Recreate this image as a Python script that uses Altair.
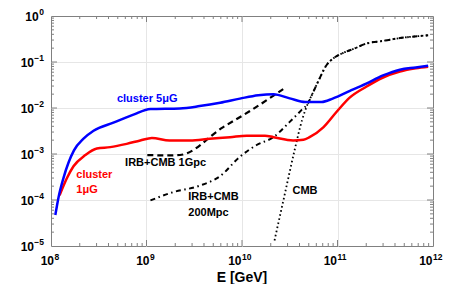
import altair as alt
import pandas as pd

# ---------------- data (E in GeV, attenuation factor) ----------------
blue_E = [1.11e8, 1.20e8, 1.35e8, 1.74e8, 2.19e8, 2.79e8, 4.5e8, 7.3e8, 1.10e9, 2.24e9,
          3.6e9, 5.9e9, 9.5e9, 1.48e10, 2.14e10, 3.16e10, 4.6e10, 6.8e10, 8.9e10,
          1.35e11, 2.0e11, 3.0e11, 4.5e11, 6.6e11, 8.9e11]
blue_v = [4.7e-5, 1.15e-4, 3.0e-4, 1.2e-3, 2.15e-3, 3.2e-3, 4.8e-3, 7.2e-3, 9.5e-3, 9.8e-3,
          1.1e-2, 1.3e-2, 1.6e-2, 1.9e-2, 2.0e-2, 1.62e-2, 1.35e-2, 1.35e-2, 1.6e-2,
          2.35e-2, 3.4e-2, 5.1e-2, 6.8e-2, 7.6e-2, 8.3e-2]

red_E = [1.23e8, 1.47e8, 1.72e8, 2.29e8, 3.02e8, 4.17e8, 6.2e8, 8.6e8, 1.14e9, 1.74e9,
         2.85e9, 4.6e9, 7.5e9, 1.12e10, 1.74e10, 2.14e10, 3.43e10, 4.4e10, 5.1e10,
         7.1e10, 9.8e10, 1.35e11, 2.0e11, 3.0e11, 4.5e11, 6.6e11, 8.9e11]
red_v = [1.26e-4, 3.0e-4, 5.4e-4, 9.5e-4, 1.32e-3, 1.41e-3, 1.66e-3, 1.97e-3, 2.24e-3, 1.97e-3,
         1.97e-3, 2.14e-3, 2.32e-3, 2.5e-3, 2.5e-3, 2.32e-3, 1.97e-3, 2.04e-3, 2.32e-3,
         3.8e-3, 8.3e-3, 1.7e-2, 2.9e-2, 4.6e-2, 6.2e-2, 7.3e-2, 7.9e-2]

gpc_E = [1.02e9, 1.6e9, 2.24e9, 6.3e9, 1.2e10, 2.7e10]
gpc_v = [9.5e-4, 9.3e-4, 9.5e-4, 3.8e-3, 8.5e-3, 2.57e-2]

mpc_E = [1.10e9, 1.9e9, 3.6e9, 5.9e9, 9.5e9, 1.41e10, 2.14e10, 3.16e10, 4.17e10, 4.9e10,
         5.5e10, 6.5e10, 7.6e10, 8.9e10, 1.15e11, 1.45e11, 2.0e11, 3.0e11, 4.5e11, 8.9e11]
mpc_v = [9.8e-5, 1.48e-4, 2.04e-4, 3.3e-4, 8.7e-4, 1.55e-3, 2.34e-3, 5.0e-3, 8.9e-3, 1.26e-2,
         2.1e-2, 4.4e-2, 8.3e-2, 0.117, 0.158, 0.19, 0.251, 0.288, 0.331, 0.38]

cmb_E = [2.19e10, 2.82e10, 3.55e10, 4.27e10, 4.9e10, 5.5e10, 6.5e10, 7.6e10, 8.9e10,
         1.15e11, 1.45e11, 2.0e11, 3.0e11, 4.5e11, 8.9e11]
cmb_v = [1.32e-5, 1.41e-4, 1.2e-3, 5.6e-3, 1.26e-2, 2.1e-2, 4.4e-2, 8.3e-2, 0.117,
         0.158, 0.19, 0.251, 0.288, 0.331, 0.38]

# annotations (data coordinates)
ann_E = [4.9e8, 1.84e8, 1.84e8, 5.97e8, 2.74e9, 2.74e9, 3.38e10]
ann_v = [1.58e-2, 3.57e-4, 1.66e-4, 6.3e-4, 1.15e-4, 5.25e-5, 1.55e-4]
ann_t = ["cluster 5\u03bcG", "cluster", "1\u03bcG", "IRB+CMB 1Gpc", "IRB+CMB", "200Mpc", "CMB"]
ann_c = ["blue", "red", "red", "black", "black", "black", "black"]

# axis ticks / labels
x_decades = [1e8, 1e9, 1e10, 1e11, 1e12]
x_exps = ["8", "9", "10", "11", "12"]
y_decades = [1.0, 1e-1, 1e-2, 1e-3, 1e-4, 1e-5]
y_exps = ["0", "\u22121", "\u22122", "\u22123", "\u22124", "\u22125"]

W, H = 382, 230
FRAME = "#808080"
FONT = "Liberation Sans"

xscale = alt.Scale(type="log", domain=[1e8, 1e12], nice=False)
yscale = alt.Scale(type="log", domain=[1e-5, 1], nice=False)
xaxis = alt.Axis(values=[1e9, 1e10, 1e11], grid=True, gridColor="#e6e6e6", gridWidth=1,
                 labels=False, ticks=False, domain=False, title="")
yaxis = alt.Axis(values=[1e-1, 1e-2, 1e-3, 1e-4], grid=True, gridColor="#e6e6e6", gridWidth=1,
                 labels=False, ticks=False, domain=False, title="")


def X(f):
    return alt.X(f, type="quantitative", scale=xscale, axis=xaxis)


def Y(f):
    return alt.Y(f, type="quantitative", scale=yscale, axis=yaxis)


def series(E, v, **style):
    df = pd.DataFrame({"E": E, "v": v})
    return alt.Chart(df).mark_line(interpolate="monotone", **style).encode(x=X("E"), y=Y("v"))


layers = []
layers.append(series(mpc_E, mpc_v, color="black", strokeWidth=2, strokeDash=[5, 3.5, 1.5, 3.5]))
layers.append(series(cmb_E, cmb_v, color="black", strokeWidth=1.8, strokeDash=[1.6, 2.6]))
layers.append(series(gpc_E, gpc_v, color="black", strokeWidth=2.2, strokeDash=[6, 4]))
layers.append(series(red_E, red_v, color="#ff0000", strokeWidth=2.5))
layers.append(series(blue_E, blue_v, color="#0000ff", strokeWidth=2.5))

# tick marks (inward on all four sides)
x_minor = [m * d for d in x_decades[:-1] for m in range(2, 10)]
x_major = x_decades[1:-1]
y_minor = [m * d for d in y_decades[1:] for m in range(2, 10)]
y_major = y_decades[1:-1]

for vals, ln in ((x_minor, 3), (x_major, 6)):
    df = pd.DataFrame({"v": vals})
    layers.append(alt.Chart(df).mark_rule(color=FRAME, strokeWidth=1).encode(
        x=X("v"), y=alt.value(H), y2=alt.value(H - ln)))
    layers.append(alt.Chart(df).mark_rule(color=FRAME, strokeWidth=1).encode(
        x=X("v"), y=alt.value(0), y2=alt.value(ln)))
for vals, ln in ((y_minor, 3), (y_major, 6)):
    df = pd.DataFrame({"v": vals})
    layers.append(alt.Chart(df).mark_rule(color=FRAME, strokeWidth=1).encode(
        y=Y("v"), x=alt.value(0), x2=alt.value(ln)))
    layers.append(alt.Chart(df).mark_rule(color=FRAME, strokeWidth=1).encode(
        y=Y("v"), x=alt.value(W), x2=alt.value(W - ln)))

# annotations
ann = pd.DataFrame({"E": ann_E, "v": ann_v, "t": ann_t, "c": ann_c})
layers.append(alt.Chart(ann).mark_text(align="left", baseline="middle", font=FONT,
                                       fontWeight="bold", fontSize=11).encode(
    x=X("E"), y=Y("v"), text="t:N",
    color=alt.Color("c:N", scale=None)))

# y tick labels
ylab = pd.DataFrame({"v": y_decades, "e": y_exps})
XR = -7
layers.append(alt.Chart(ylab).mark_text(align="right", baseline="alphabetic", font=FONT,
                                        fontWeight="bold", fontSize=8.5, dy=-1, color="black").encode(
    y=Y("v"), x=alt.value(XR), text="e:N"))
layers.append(alt.Chart(ylab).transform_filter("datum.v < 0.5").mark_text(
    align="right", baseline="middle", font=FONT, fontWeight="bold", fontSize=12, dy=0.5,
    color="black").encode(y=Y("v"), x=alt.value(XR - 10), text=alt.value("10")))
layers.append(alt.Chart(ylab).transform_filter("datum.v > 0.5").mark_text(
    align="right", baseline="middle", font=FONT, fontWeight="bold", fontSize=12, dy=0.5,
    color="black").encode(y=Y("v"), x=alt.value(XR - 5.3), text=alt.value("10")))

# x tick labels
xlab = pd.DataFrame({"v": x_decades, "e": x_exps})
for cond, off in (("datum.v < 5e9", 3), ("datum.v > 5e9", -0.5)):
    layers.append(alt.Chart(xlab).transform_filter(cond).mark_text(
        align="right", baseline="middle", font=FONT, fontWeight="bold", fontSize=12,
        dx=off, color="black").encode(x=X("v"), y=alt.value(H + 15), text=alt.value("10")))
    layers.append(alt.Chart(xlab).transform_filter(cond).mark_text(
        align="left", baseline="alphabetic", font=FONT, fontWeight="bold", fontSize=8.5,
        dx=off + 0.5, color="black").encode(x=X("v"), y=alt.value(H + 14), text="e:N"))

# x title
layers.append(alt.Chart(pd.DataFrame({"t": ["E [GeV]"]})).mark_text(
    align="center", baseline="middle", font=FONT, fontWeight="bold", fontSize=14,
    color="black").encode(x=alt.value(W / 2), y=alt.value(H + 31.5), text="t:N"))

chart = alt.layer(*layers).properties(
    width=W, height=H,
    autosize=alt.AutoSizeParams(type="none"),
    padding={"left": 43, "top": 8, "right": 20, "bottom": 38},
).configure_view(stroke=FRAME, strokeWidth=1)

chart.save("out.html", embed_options={"renderer": "svg", "actions": False})
